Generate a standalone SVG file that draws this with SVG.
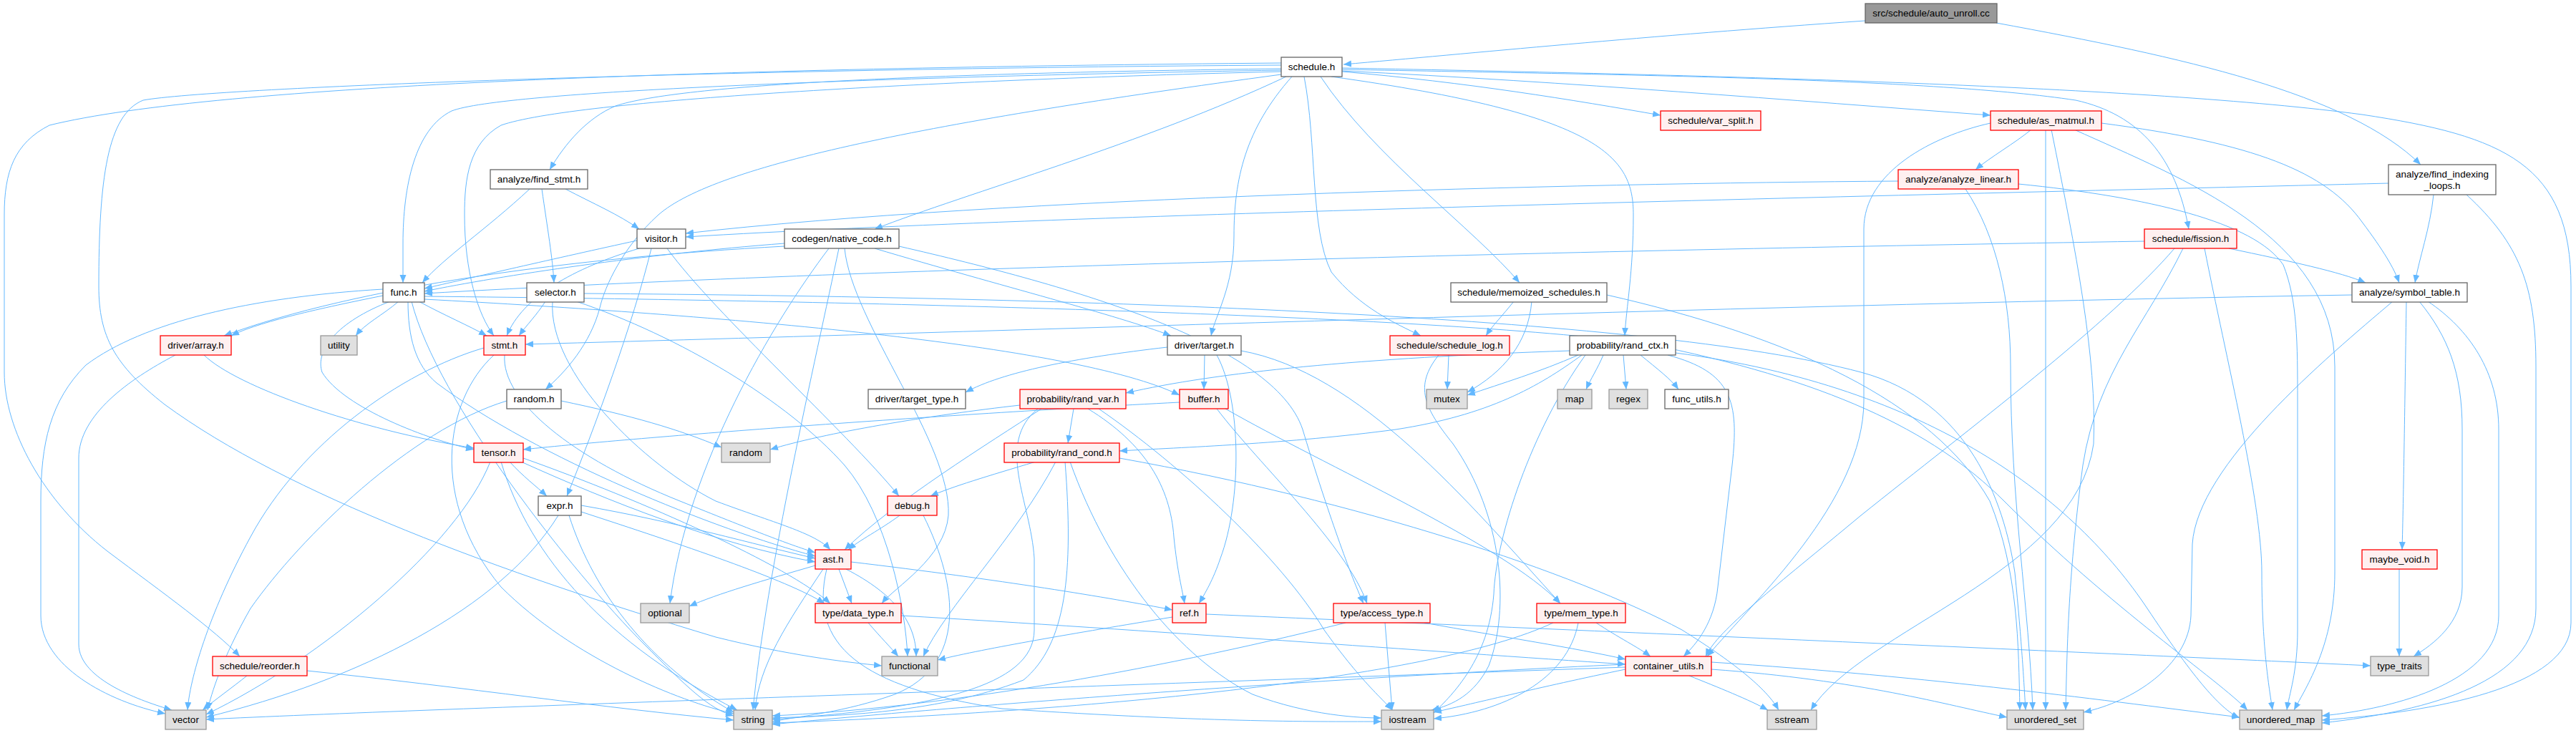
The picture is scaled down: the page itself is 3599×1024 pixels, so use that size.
<svg xmlns="http://www.w3.org/2000/svg" width="3599" height="1024" viewBox="0 0 3599 1024">
<style>
.e{fill:none;stroke:#63b8ff;stroke-width:1;marker-end:url(#ah)}
.node rect{fill:#ffffff;stroke:#666666;stroke-width:1.3}
.red rect{fill:#fff0f0;stroke:#ff0000}
.sys rect{fill:#e0e0e0;stroke:#999999}
.root rect{fill:#999999;stroke:#666666}
text{font-family:"Liberation Sans",Arial,sans-serif;font-size:13.5px;fill:#000000;text-anchor:middle}
</style>
<defs>
<marker id="ah" markerWidth="12" markerHeight="10" refX="11" refY="4.5" orient="auto" markerUnits="userSpaceOnUse">
<path d="M0,0 L11,4.5 L0,9 z" fill="#63b8ff"/>
</marker>
</defs>
<rect x="0" y="0" width="3599" height="1024" fill="#ffffff"/>
<g id="edges">
<path class="e" d="M2606,29 C2300,50 2050,75 1877,90"/>
<path class="e" d="M2789,32 C3050,80 3280,130 3382,230"/>
<path class="e" d="M1875,100 C2050,115 2200,140 2320,161"/>
<path class="e" d="M1875,99 C2200,115 2500,140 2781,161"/>
<path class="e" d="M1875,97 C2300,105 2700,110 2900,140 C2990,160 3040,220 3058,320"/>
<path class="e" d="M1875,95 C2400,105 3000,120 3300,160 C3500,190 3592,230 3592,400 L3592,870 C3592,960 3400,995 3244,1006"/>
<path class="e" d="M1860,107 C2240,160 2282,220 2282,300 C2282,380 2272,430 2270,469"/>
<path class="e" d="M1845,107 C1920,220 2060,320 2123,395"/>
<path class="e" d="M1822,107 C1840,200 1830,320 1860,380 C1900,430 1950,452 1985,469"/>
<path class="e" d="M1805,107 C1740,180 1724,250 1724,330 C1724,400 1698,440 1692,469"/>
<path class="e" d="M1797,107 C1600,200 1350,270 1222,320"/>
<path class="e" d="M1790,104 C1300,170 1000,230 920,300 C870,345 845,400 838,430 C825,480 790,520 762,544"/>
<path class="e" d="M1790,98 C1200,108 700,128 631,155 C580,180 563,260 563,340 L563,395"/>
<path class="e" d="M1790,100 C1300,112 800,140 700,175 C655,200 649,250 649,300 C649,380 668,440 690,469"/>
<path class="e" d="M1790,96 C1300,102 950,118 860,148 C820,165 790,200 768,237"/>
<path class="e" d="M1790,91 C1000,96 300,122 200,140 C150,160 138,250 138,400 C138,470 160,510 230,565 C400,690 700,800 1000,890 C1100,915 1180,925 1232,930"/>
<path class="e" d="M1790,88 C1000,95 300,118 69,175 C20,200 6,240 6,300 L6,520 C6,600 60,700 150,770 C230,830 300,880 335,917"/>
<path class="e" d="M3337,256 C2700,272 1500,298 958,331"/>
<path class="e" d="M3400,272 C3395,320 3380,360 3374,395"/>
<path class="e" d="M3446,272 C3520,340 3543,400 3543,512 L3543,850 C3543,950 3400,993 3244,1010"/>
<path class="e" d="M2838,181 C2815,200 2780,220 2760,237"/>
<path class="e" d="M2858,181 L2858,992"/>
<path class="e" d="M2866,181 C2900,350 2930,500 2925,620 C2900,800 2600,880 2530,992"/>
<path class="e" d="M2898,181 C3050,250 3262,330 3262,512 L3262,800 C3262,900 3222,960 3205,992"/>
<path class="e" d="M2936,172 C3150,200 3250,240 3300,310 C3330,350 3345,375 3352,395"/>
<path class="e" d="M2781,172 C2700,190 2604,240 2604,320 L2604,560 C2604,700 2450,840 2385,917"/>
<path class="e" d="M2652,253 C2200,256 1400,276 958,326"/>
<path class="e" d="M2746,264 C2790,330 2809,420 2809,512 C2809,700 2835,850 2840,992"/>
<path class="e" d="M2820,257 C3000,275 3150,310 3190,370 C3210,420 3210,480 3210,560 L3210,880 C3210,940 3198,970 3195,992"/>
<path class="e" d="M740,264 C680,320 620,360 590,395"/>
<path class="e" d="M757,264 C765,320 772,360 774,395"/>
<path class="e" d="M790,264 C830,285 865,300 893,320"/>
<path class="e" d="M890,336 C780,360 650,390 593,403"/>
<path class="e" d="M893,347 C800,375 730,415 708,469"/>
<path class="e" d="M910,347 C885,450 830,600 792,693"/>
<path class="e" d="M932,347 C1000,440 1180,600 1256,693"/>
<path class="e" d="M1096,340 C900,355 700,385 593,407"/>
<path class="e" d="M1096,344 C800,360 500,400 313,469"/>
<path class="e" d="M1222,347 C1400,400 1560,440 1636,469"/>
<path class="e" d="M1158,347 C1080,450 960,650 936,843"/>
<path class="e" d="M1172,347 C1140,500 1070,800 1052,992"/>
<path class="e" d="M1180,347 C1190,450 1330,620 1325,720 C1320,780 1250,820 1232,843"/>
<path class="e" d="M1256,344 C1500,400 1780,480 1820,600 C1850,700 1885,800 1905,843"/>
<path class="e" d="M2996,337 C2200,350 1200,375 593,410"/>
<path class="e" d="M3114,347 C3200,365 3270,380 3305,395"/>
<path class="e" d="M3038,347 C2950,450 2750,600 2600,720 C2480,820 2400,880 2383,917"/>
<path class="e" d="M3050,347 C3000,450 2930,520 2910,650 C2890,800 2888,900 2886,992"/>
<path class="e" d="M3080,347 C3110,500 3160,700 3160,800 C3160,900 3170,960 3175,992"/>
<path class="e" d="M557,421 C535,440 510,452 497,469"/>
<path class="e" d="M535,413 C450,430 360,450 323,469"/>
<path class="e" d="M585,421 C620,440 655,455 680,469"/>
<path class="e" d="M545,421 C470,450 440,490 450,520 C480,570 600,615 662,628"/>
<path class="e" d="M570,421 C570,470 580,510 610,535 C750,640 1000,740 1139,777"/>
<path class="e" d="M593,414 C1200,420 2000,440 2300,480 C2550,530 2700,600 2800,700 C2950,850 3100,950 3140,992"/>
<path class="e" d="M575,421 C610,560 800,800 900,900 C960,960 990,990 1025,1000"/>
<path class="e" d="M535,404 C350,415 200,450 120,510 C70,560 57,620 57,700 L57,860 C57,930 150,980 231,997"/>
<path class="e" d="M593,418 C1000,440 1500,480 1648,552"/>
<path class="e" d="M762,421 C750,440 735,455 725,469"/>
<path class="e" d="M772,421 C765,520 900,650 1000,700 C1080,730 1140,745 1160,768"/>
<path class="e" d="M805,421 C950,470 1100,560 1180,650 C1240,720 1265,850 1268,917"/>
<path class="e" d="M816,410 C1500,415 2300,440 2600,520 C2750,560 2800,700 2815,800 C2825,900 2828,960 2830,992"/>
<path class="e" d="M2115,421 C2100,440 2085,455 2076,469"/>
<path class="e" d="M2140,421 C2135,480 2100,520 2050,548"/>
<path class="e" d="M2245,412 C2500,470 2700,560 2780,700 C2820,800 2820,900 2822,992"/>
<path class="e" d="M2024,496 L2022,544"/>
<path class="e" d="M2010,496 C1975,540 1990,570 2030,620 C2100,720 2110,850 2080,930 C2060,970 2030,985 2000,992"/>
<path class="e" d="M2205,496 C2150,520 2100,535 2050,552"/>
<path class="e" d="M2240,496 C2232,515 2222,530 2216,544"/>
<path class="e" d="M2268,496 L2272,544"/>
<path class="e" d="M2292,496 C2315,515 2335,530 2345,544"/>
<path class="e" d="M2215,496 C2140,600 2090,750 2087,830 C2080,920 2030,970 2003,996"/>
<path class="e" d="M2330,496 C2420,520 2430,560 2420,650 L2400,820 C2395,870 2370,900 2352,917"/>
<path class="e" d="M2193,490 C1900,500 1700,520 1573,549"/>
<path class="e" d="M2210,496 C2150,540 2080,580 1950,600 C1800,620 1650,625 1564,630"/>
<path class="e" d="M2341,493 C2700,540 2900,700 3000,850 C3060,940 3100,990 3129,1003"/>
<path class="e" d="M1631,485 C1500,500 1400,520 1349,548"/>
<path class="e" d="M1683,496 L1682,544"/>
<path class="e" d="M1700,496 C1735,560 1735,700 1705,780 C1695,810 1683,830 1675,843"/>
<path class="e" d="M1734,490 C1900,520 2050,700 2180,843"/>
<path class="e" d="M784,560 C880,580 950,600 1008,625"/>
<path class="e" d="M708,560 C575,600 420,750 350,850 C310,920 295,970 290,992"/>
<path class="e" d="M1500,571 L1492,619"/>
<path class="e" d="M1455,571 C1380,620 1250,700 1180,768"/>
<path class="e" d="M1425,566 C1300,580 1150,605 1076,628"/>
<path class="e" d="M1450,571 C1390,620 1440,700 1445,780 L1445,880 C1445,960 1300,990 1079,1005"/>
<path class="e" d="M1520,571 C1600,620 1635,680 1640,750 C1645,800 1652,825 1655,843"/>
<path class="e" d="M1535,571 C1650,650 1790,780 1850,880 C1900,950 1930,975 1945,992"/>
<path class="e" d="M1648,562 C1300,580 900,610 731,628"/>
<path class="e" d="M1700,571 C1760,650 1880,760 1910,843"/>
<path class="e" d="M1712,571 C1850,650 2100,760 2180,843"/>
<path class="e" d="M712,645 C730,665 750,680 764,693"/>
<path class="e" d="M728,645 C850,700 1000,760 1139,785"/>
<path class="e" d="M685,645 C640,760 450,920 288,998"/>
<path class="e" d="M700,645 C740,780 850,900 1030,992"/>
<path class="e" d="M731,640 C900,700 1100,790 1160,843"/>
<path class="e" d="M1447,645 C1380,665 1330,680 1300,693"/>
<path class="e" d="M1475,645 C1420,750 1320,850 1290,917"/>
<path class="e" d="M1488,645 C1500,800 1490,900 1430,950 C1300,1000 1150,1000 1079,1003"/>
<path class="e" d="M1495,645 C1550,800 1650,920 1750,970 C1830,1000 1900,1003 1930,1003"/>
<path class="e" d="M1564,640 C1900,700 2200,800 2350,880 C2430,930 2470,965 2485,992"/>
<path class="e" d="M812,706 C950,730 1050,760 1139,780"/>
<path class="e" d="M812,715 C950,760 1100,810 1152,843"/>
<path class="e" d="M780,720 C700,850 500,950 288,1002"/>
<path class="e" d="M795,720 C830,830 910,930 1025,995"/>
<path class="e" d="M1257,720 C1230,740 1200,755 1185,768"/>
<path class="e" d="M1290,720 C1340,820 1350,930 1250,970 C1180,995 1120,1000 1079,1008"/>
<path class="e" d="M1139,790 C1070,810 1000,830 963,847"/>
<path class="e" d="M1172,795 L1190,843"/>
<path class="e" d="M1189,785 C1400,810 1550,835 1638,852"/>
<path class="e" d="M1182,795 C1250,830 1280,870 1280,917"/>
<path class="e" d="M1150,795 C1100,870 1060,930 1055,992"/>
<path class="e" d="M1155,795 C1130,900 1200,960 1400,990 C1700,1010 1850,1008 1930,1008"/>
<path class="e" d="M1213,870 C1230,890 1245,905 1255,917"/>
<path class="e" d="M1259,860 C1600,880 2000,910 2271,928"/>
<path class="e" d="M1638,862 C1500,885 1380,905 1310,922"/>
<path class="e" d="M1685,858 C2200,880 3000,915 3312,930"/>
<path class="e" d="M1990,870 C2100,890 2200,905 2271,921"/>
<path class="e" d="M1880,870 C1600,940 1300,990 1079,1000"/>
<path class="e" d="M1935,870 L1945,992"/>
<path class="e" d="M2230,870 C2260,890 2290,905 2306,917"/>
<path class="e" d="M2205,870 C2190,950 2100,995 2003,1004"/>
<path class="e" d="M2170,870 C2000,950 1500,995 1079,1010"/>
<path class="e" d="M345,944 C325,960 300,978 283,992"/>
<path class="e" d="M429,937 C650,960 850,990 1025,1006"/>
<path class="e" d="M2271,935 C2150,960 2050,985 2003,995"/>
<path class="e" d="M2360,944 C2400,960 2445,978 2470,992"/>
<path class="e" d="M2271,928 C1800,950 1300,990 1079,1012"/>
<path class="e" d="M2271,932 C1500,960 600,990 288,1005"/>
<path class="e" d="M2391,935 C2600,950 2720,985 2804,1002"/>
<path class="e" d="M2391,925 C2700,945 2950,980 3129,1002"/>
<path class="e" d="M3352,795 L3352,917"/>
<path class="e" d="M3286,412 C2500,425 1500,460 734,481"/>
<path class="e" d="M3362,421 C3360,550 3358,700 3356,768"/>
<path class="e" d="M3343,421 C3250,500 3070,650 3063,760 L3061,860 C3058,930 2980,980 2911,995"/>
<path class="e" d="M3380,421 C3420,470 3440,520 3440,600 L3440,820 C3440,870 3400,900 3372,917"/>
<path class="e" d="M3392,421 C3450,460 3491,520 3491,600 L3491,860 C3491,950 3350,990 3244,1000"/>
<path class="e" d="M245,496 C180,530 110,580 110,640 L110,900 C110,950 200,980 240,992"/>
<path class="e" d="M285,496 C330,540 500,600 662,626"/>
<path class="e" d="M705,496 C700,560 800,640 950,700 C1050,740 1100,760 1139,772"/>
<path class="e" d="M676,486 C560,520 420,620 350,750 C290,860 265,950 262,992"/>
<path class="e" d="M690,496 C620,560 600,700 700,820 C800,920 950,980 1025,997"/>
</g>
<g id="n_src" class="node root"><rect x="2606" y="5" width="184" height="27"/><text x="2698" y="23">src/schedule/auto_unroll.cc</text></g>
<g id="n_schedule" class="node"><rect x="1790" y="80" width="85" height="27"/><text x="1832.5" y="98">schedule.h</text></g>
<g id="n_var_split" class="node red"><rect x="2320" y="155" width="140" height="27"/><text x="2390" y="173">schedule/var_split.h</text></g>
<g id="n_as_matmul" class="node red"><rect x="2781" y="155" width="155" height="27"/><text x="2858.5" y="173">schedule/as_matmul.h</text></g>
<g id="n_find_stmt" class="node"><rect x="685" y="237" width="136" height="27"/><text x="753" y="255">analyze/find_stmt.h</text></g>
<g id="n_analyze_linear" class="node red"><rect x="2652" y="237" width="168" height="27"/><text x="2736" y="255">analyze/analyze_linear.h</text></g>
<g id="n_find_indexing" class="node"><rect x="3337" y="230" width="150" height="42"/><text x="3412" y="248">analyze/find_indexing</text><text x="3412" y="264">_loops.h</text></g>
<g id="n_visitor" class="node"><rect x="890" y="320" width="68" height="27"/><text x="924" y="338">visitor.h</text></g>
<g id="n_codegen" class="node"><rect x="1096" y="320" width="160" height="27"/><text x="1176" y="338">codegen/native_code.h</text></g>
<g id="n_fission" class="node red"><rect x="2996" y="320" width="129" height="27"/><text x="3060.5" y="338">schedule/fission.h</text></g>
<g id="n_func" class="node"><rect x="535" y="395" width="58" height="27"/><text x="564" y="413">func.h</text></g>
<g id="n_selector" class="node"><rect x="736" y="395" width="80" height="27"/><text x="776" y="413">selector.h</text></g>
<g id="n_memoized" class="node"><rect x="2027" y="395" width="218" height="27"/><text x="2136" y="413">schedule/memoized_schedules.h</text></g>
<g id="n_symbol_table" class="node"><rect x="3286" y="395" width="161" height="27"/><text x="3366.5" y="413">analyze/symbol_table.h</text></g>
<g id="n_driver_array" class="node red"><rect x="224" y="469" width="99" height="27"/><text x="273.5" y="487">driver/array.h</text></g>
<g id="n_utility" class="node sys"><rect x="448" y="469" width="51" height="27"/><text x="473.5" y="487">utility</text></g>
<g id="n_stmt" class="node red"><rect x="676" y="469" width="58" height="27"/><text x="705" y="487">stmt.h</text></g>
<g id="n_schedule_log" class="node red"><rect x="1942" y="469" width="167" height="27"/><text x="2025.5" y="487">schedule/schedule_log.h</text></g>
<g id="n_rand_ctx" class="node"><rect x="2193" y="469" width="148" height="27"/><text x="2267" y="487">probability/rand_ctx.h</text></g>
<g id="n_target" class="node"><rect x="1631" y="469" width="103" height="27"/><text x="1682.5" y="487">driver/target.h</text></g>
<g id="n_random_h" class="node"><rect x="708" y="544" width="76" height="27"/><text x="746" y="562">random.h</text></g>
<g id="n_target_type" class="node"><rect x="1213" y="544" width="136" height="27"/><text x="1281" y="562">driver/target_type.h</text></g>
<g id="n_rand_var" class="node red"><rect x="1425" y="544" width="148" height="27"/><text x="1499" y="562">probability/rand_var.h</text></g>
<g id="n_buffer" class="node red"><rect x="1648" y="544" width="68" height="27"/><text x="1682" y="562">buffer.h</text></g>
<g id="n_mutex" class="node sys"><rect x="1993" y="544" width="57" height="27"/><text x="2021.5" y="562">mutex</text></g>
<g id="n_map" class="node sys"><rect x="2176" y="544" width="48" height="27"/><text x="2200" y="562">map</text></g>
<g id="n_regex" class="node sys"><rect x="2248" y="544" width="54" height="27"/><text x="2275" y="562">regex</text></g>
<g id="n_func_utils" class="node"><rect x="2326" y="544" width="89" height="27"/><text x="2370.5" y="562">func_utils.h</text></g>
<g id="n_tensor" class="node red"><rect x="662" y="619" width="69" height="27"/><text x="696.5" y="637">tensor.h</text></g>
<g id="n_random" class="node sys"><rect x="1008" y="619" width="68" height="27"/><text x="1042" y="637">random</text></g>
<g id="n_rand_cond" class="node red"><rect x="1403" y="619" width="161" height="27"/><text x="1483.5" y="637">probability/rand_cond.h</text></g>
<g id="n_expr" class="node"><rect x="752" y="693" width="60" height="27"/><text x="782" y="711">expr.h</text></g>
<g id="n_debug" class="node red"><rect x="1240" y="693" width="69" height="27"/><text x="1274.5" y="711">debug.h</text></g>
<g id="n_ast" class="node red"><rect x="1139" y="768" width="50" height="27"/><text x="1164" y="786">ast.h</text></g>
<g id="n_maybe_void" class="node red"><rect x="3300" y="768" width="105" height="27"/><text x="3352.5" y="786">maybe_void.h</text></g>
<g id="n_optional" class="node sys"><rect x="895" y="843" width="68" height="27"/><text x="929" y="861">optional</text></g>
<g id="n_data_type" class="node red"><rect x="1139" y="843" width="120" height="27"/><text x="1199" y="861">type/data_type.h</text></g>
<g id="n_ref" class="node red"><rect x="1638" y="843" width="47" height="27"/><text x="1661.5" y="861">ref.h</text></g>
<g id="n_access_type" class="node red"><rect x="1863" y="843" width="135" height="27"/><text x="1930.5" y="861">type/access_type.h</text></g>
<g id="n_mem_type" class="node red"><rect x="2147" y="843" width="124" height="27"/><text x="2209" y="861">type/mem_type.h</text></g>
<g id="n_reorder" class="node red"><rect x="297" y="917" width="132" height="27"/><text x="363" y="935">schedule/reorder.h</text></g>
<g id="n_functional" class="node sys"><rect x="1232" y="917" width="78" height="27"/><text x="1271" y="935">functional</text></g>
<g id="n_container_utils" class="node red"><rect x="2271" y="917" width="120" height="27"/><text x="2331" y="935">container_utils.h</text></g>
<g id="n_type_traits" class="node sys"><rect x="3312" y="917" width="81" height="27"/><text x="3352.5" y="935">type_traits</text></g>
<g id="n_vector" class="node sys"><rect x="231" y="992" width="57" height="27"/><text x="259.5" y="1010">vector</text></g>
<g id="n_string" class="node sys"><rect x="1025" y="992" width="54" height="27"/><text x="1052" y="1010">string</text></g>
<g id="n_iostream" class="node sys"><rect x="1930" y="992" width="73" height="27"/><text x="1966.5" y="1010">iostream</text></g>
<g id="n_sstream" class="node sys"><rect x="2469" y="992" width="69" height="27"/><text x="2503.5" y="1010">sstream</text></g>
<g id="n_unordered_set" class="node sys"><rect x="2804" y="992" width="107" height="27"/><text x="2857.5" y="1010">unordered_set</text></g>
<g id="n_unordered_map" class="node sys"><rect x="3129" y="992" width="115" height="27"/><text x="3186.5" y="1010">unordered_map</text></g>
</svg>
